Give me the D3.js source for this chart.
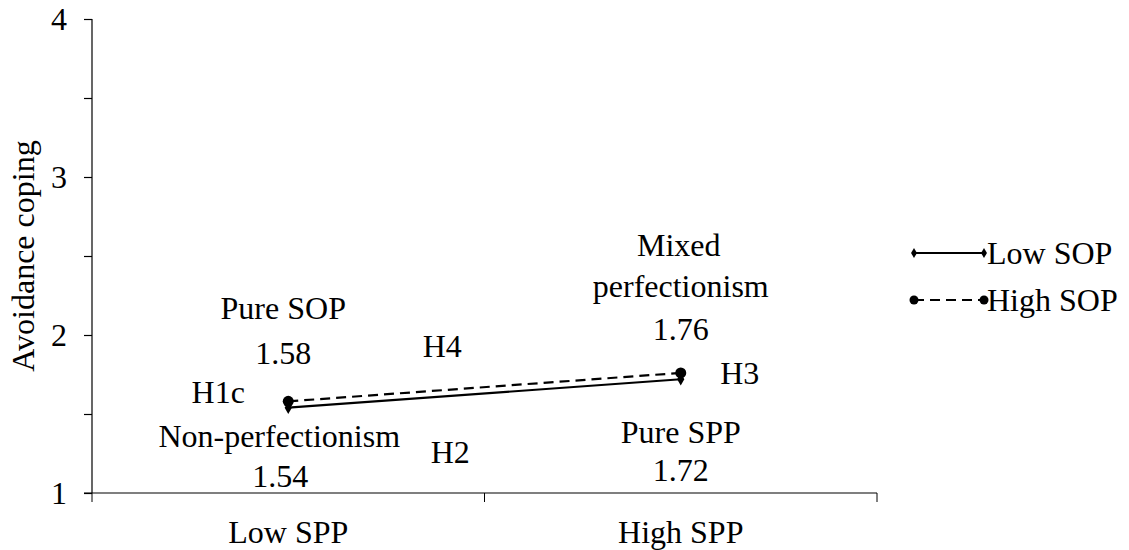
<!DOCTYPE html>
<html>
<head>
<meta charset="utf-8">
<script src="https://cdn.jsdelivr.net/npm/d3@7"></script>
</head>
<body style="margin:0;background:#fff">
<svg id="chart" width="1129" height="550"></svg>
<script>
var categories = ["Low SPP", "High SPP"];
var lowSOP = [1.54, 1.72];
var highSOP = [1.58, 1.76];
var yTicks = [1, 2, 3, 4];
var seriesNames = ["Low SOP", "High SOP"];

// cell labels: text, category index, y value (data units), x shift
var noteText = ["Pure SOP", "1.58", "H1c", "Non-perfectionism", "1.54", "H4", "H2",
                "Mixed", "perfectionism", "1.76", "H3", "Pure SPP", "1.72"];
var noteCat  = [0, 0, 0, 0, 0, 0, 0, 1, 1, 1, 1, 1, 1];
var noteY    = [2.17, 1.89, 1.64, 1.36, 1.11, 1.93, 1.26, 2.57, 2.31, 2.04, 1.76, 1.39, 1.15];
var noteDx   = [-5, -5, -70, -9, -8, 154, 162, -2, 0, 0, 59, 0, 0];

var FONT = "Liberation Serif";
var FS = 32;
var svg = d3.select("#chart");
var x = d3.scaleBand().domain(categories).range([92, 877]);
var y = d3.scaleLinear().domain([1, 4]).range([493, 19]);

// y axis
var yAxis = d3.axisLeft(y).tickValues(d3.range(1, 4.01, 0.5)).tickSize(8)
    .tickFormat(function(d) { return yTicks.indexOf(d) >= 0 ? d : ""; });
var gy = svg.append("g").attr("transform", "translate(92,0)").call(yAxis);
gy.attr("font-family", FONT).attr("font-size", FS);
gy.select(".domain").attr("d", "M0,19V493");
gy.selectAll("text").attr("font-family", FONT).attr("font-size", FS).attr("x", -25).attr("dy", "0.34em");

// x axis
var gx = svg.append("g").attr("transform", "translate(0,493)")
    .call(d3.axisBottom(x).tickSize(0).tickPadding(27));
gx.attr("font-family", FONT).attr("font-size", FS);
gx.selectAll("text").attr("font-family", FONT).attr("font-size", FS);
gx.select(".domain").attr("d", "M84,0H877");
gx.selectAll(".bt").data([92].concat(categories.map(function(c) { return x(c) + x.bandwidth(); })))
  .enter().append("line").attr("class", "bt")
  .attr("x1", function(d) { return d; }).attr("x2", function(d) { return d; })
  .attr("y1", 0).attr("y2", 9).attr("stroke", "#000");
svg.selectAll(".domain, .tick line").attr("stroke", "#000").attr("stroke-width", 1.2);

svg.append("text").attr("transform", "translate(34,256) rotate(-90)")
  .attr("text-anchor", "middle").attr("font-family", FONT).attr("font-size", FS)
  .text("Avoidance coping");

function cx(i) { return x(categories[i]) + x.bandwidth() / 2; }
var line = d3.line().x(function(d, i) { return cx(i); }).y(function(d) { return y(d); });

svg.append("path").datum(lowSOP).attr("d", line)
  .attr("fill", "none").attr("stroke", "#000").attr("stroke-width", 2.2);
svg.append("path").datum(highSOP).attr("d", line)
  .attr("fill", "none").attr("stroke", "#000").attr("stroke-width", 2.2).attr("stroke-dasharray", "10,6");

var diamond = d3.symbol().type(d3.symbolDiamond).size(45);
svg.selectAll(".lo").data(lowSOP).enter().append("path")
  .attr("d", diamond)
  .attr("transform", function(d, i) { return "translate(" + cx(i) + "," + y(d) + ")"; });
svg.selectAll(".hi").data(highSOP).enter().append("circle")
  .attr("cx", function(d, i) { return cx(i); }).attr("cy", function(d) { return y(d); })
  .attr("r", 5.5);

// legend
var leg = svg.append("g").attr("transform", "translate(914,253)");
seriesNames.forEach(function(name, i) {
  var g = leg.append("g").attr("transform", "translate(0," + i * 47 + ")");
  g.append("line").attr("x1", 0).attr("x2", 70).attr("stroke", "#000").attr("stroke-width", 2.2)
    .attr("stroke-dasharray", i ? "10,6" : null);
  [0, 70].forEach(function(px) {
    if (i) g.append("circle").attr("cx", px).attr("r", 4.5);
    else g.append("path").attr("d", d3.symbol().type(d3.symbolDiamond).size(30)).attr("transform", "translate(" + px + ",0)");
  });
  g.append("text").attr("x", 73).attr("dy", "0.35em")
    .attr("font-family", FONT).attr("font-size", FS).text(name);
});

// annotations
svg.selectAll(".note").data(noteText).enter().append("text")
  .attr("x", function(d, i) { return cx(noteCat[i]) + noteDx[i]; })
  .attr("y", function(d, i) { return y(noteY[i]); })
  .attr("dy", "0.35em").attr("text-anchor", "middle")
  .attr("font-family", FONT).attr("font-size", FS)
  .text(function(d) { return d; });
</script>
</body>
</html>
